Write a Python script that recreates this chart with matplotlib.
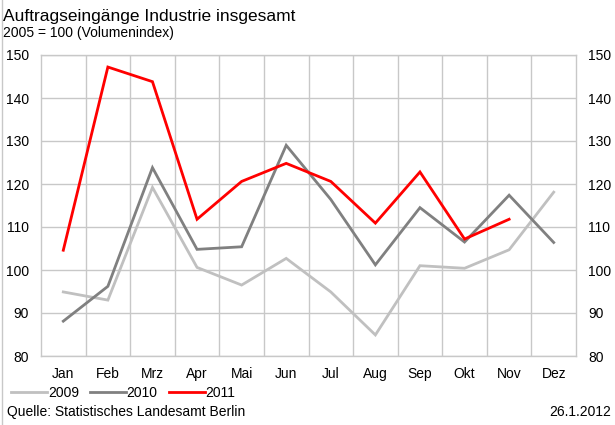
import matplotlib
matplotlib.use("Agg")
import matplotlib.pyplot as plt
from matplotlib.lines import Line2D

plt.rcParams["font.family"] = ["Liberation Sans", "DejaVu Sans"]

months = ["Jan", "Feb", "Mrz", "Apr", "Mai", "Jun", "Jul", "Aug", "Sep", "Okt", "Nov", "Dez"]
y2009 = [94.9, 93.0, 119.2, 100.6, 96.5, 102.7, 94.9, 84.9, 101.0, 100.4, 104.7, 118.1]
y2010 = [88.1, 96.2, 123.8, 104.8, 105.4, 129.0, 116.4, 101.2, 114.5, 106.5, 117.4, 106.4]
y2011 = [104.6, 147.2, 143.8, 111.8, 120.6, 124.8, 120.6, 110.9, 122.8, 107.2, 111.8]
yticks = [80, 90, 100, 110, 120, 130, 140, 150]

fig = plt.figure(figsize=(6.15, 4.25), dpi=100)
ax = fig.add_axes([41 / 615, 1 - 356 / 425, 535 / 615, 301 / 425])

x = list(range(len(months)))
ax.plot(x, y2009, color="#c0c0c0", lw=2.0, label="2009", solid_joinstyle="miter")
ax.plot(x, y2010, color="#808080", lw=2.0, label="2010", solid_joinstyle="miter")
ax.plot(x[:len(y2011)], y2011, color="#ff0000", lw=2.0, label="2011", solid_joinstyle="miter")

ax.set_xlim(-0.5, 11.5)
ax.set_ylim(80, 150)
ax.set_yticks(yticks)
ax.set_xticks(x)
ax.set_xticklabels(months)
ax.set_xticks([i + 0.5 for i in range(11)], minor=True)
ax.grid(True, axis="y", which="major", color="#c8c8c8", lw=1.0)
ax.grid(True, axis="x", which="minor", color="#c8c8c8", lw=1.0)
ax.set_axisbelow(True)
for s in ax.spines.values():
    s.set_color("#c8c8c8")
    s.set_linewidth(1.0)
ax.tick_params(which="both", length=0, labelsize=10, colors="black")
ax.tick_params(axis="y", pad=8.6, labelright=True)
ax.tick_params(axis="x", pad=8)

fig.text(3 / 615, 1 - 21 / 425, "Auftragseingänge Industrie insgesamt", fontsize=12.5, va="baseline")
fig.text(3 / 615, 1 - 37 / 425, "2005 = 100 (Volumenindex)", fontsize=10, va="baseline")
fig.text(7 / 615, 1 - 416 / 425, "Quelle: Statistisches Landesamt Berlin", fontsize=10, va="baseline")
fig.text(611 / 615, 1 - 416 / 425, "26.1.2012", fontsize=10, va="baseline", ha="right")

fig.legend(loc="center left", bbox_to_anchor=(11 / 615, 1 - 393 / 425), ncol=3, frameon=False,
           fontsize=10, handlelength=2.6, handletextpad=0.05, columnspacing=0.8, borderaxespad=0,
           borderpad=0)

fig.add_artist(Line2D([2 / 615, 2 / 615], [0, 1], color="#c8c8c8", lw=1.0, transform=fig.transFigure))

fig.savefig("out.png", dpi=100)
